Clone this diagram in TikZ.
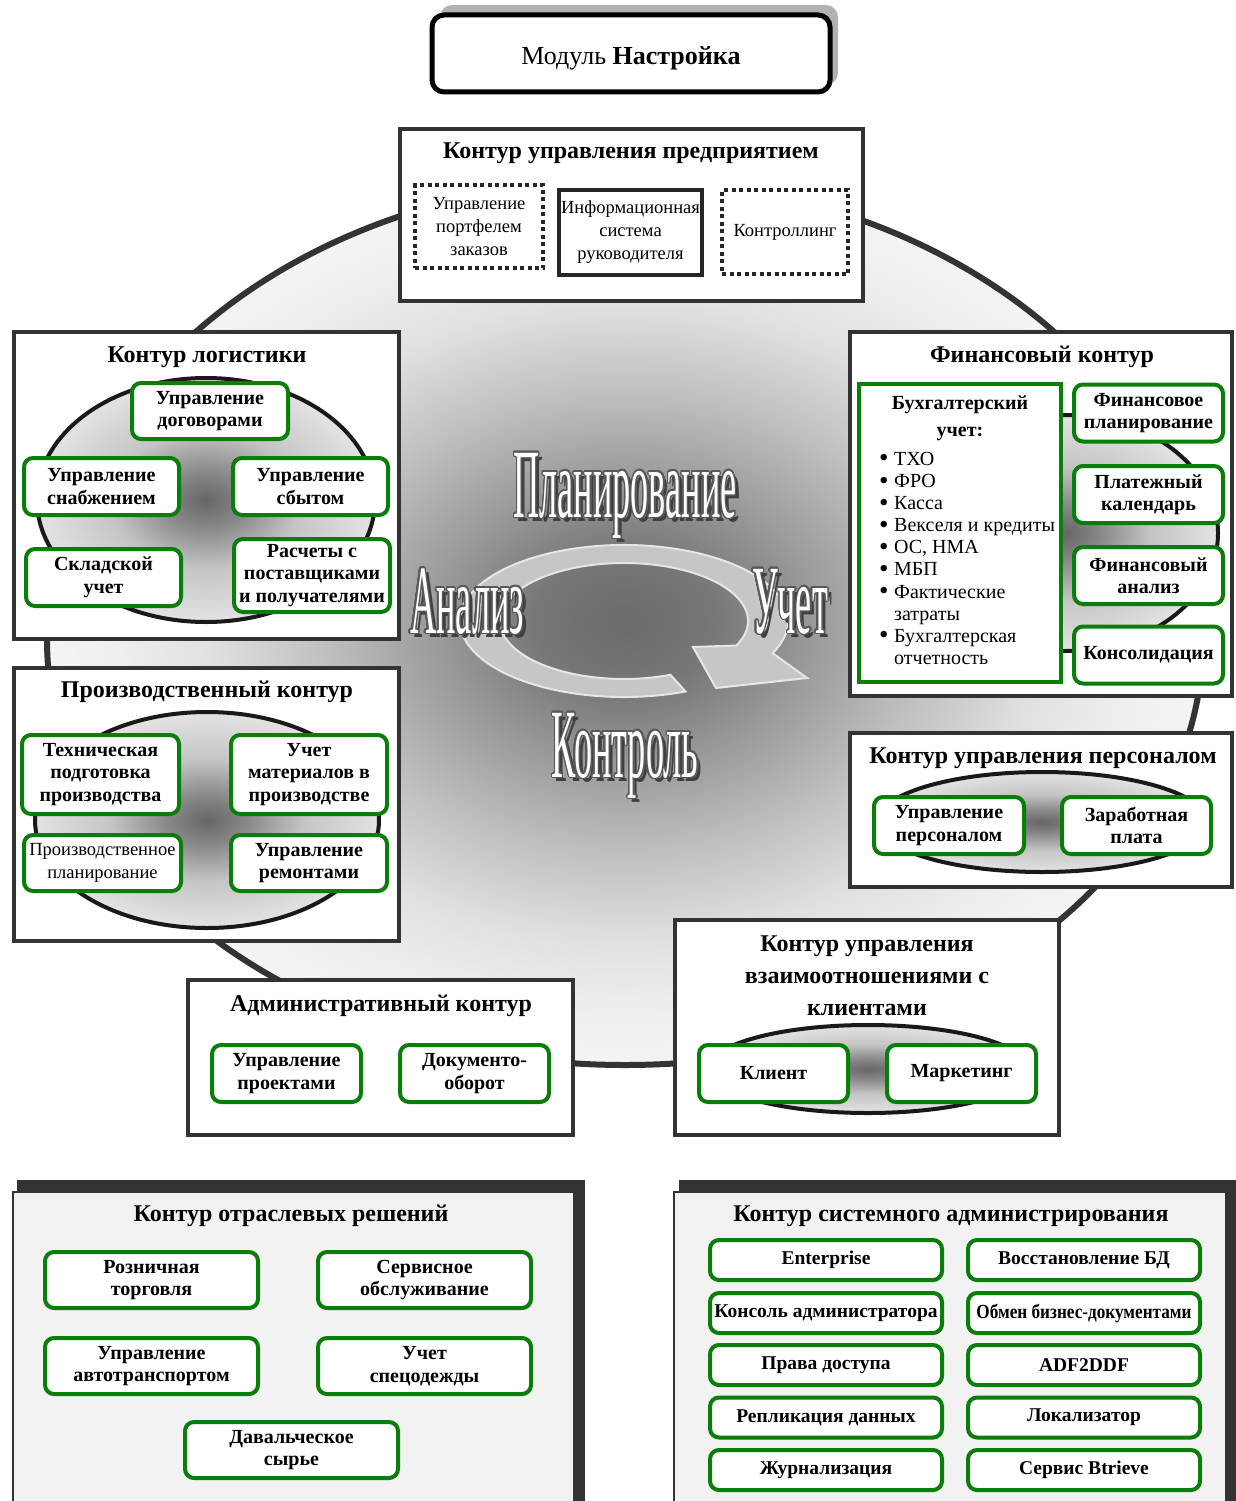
\documentclass[tikz,border=0pt]{standalone}
\usepackage{fontspec}
\setmainfont{Liberation Serif}
\newfontfamily\artfont[FakeStretch=0.37]{Liberation Serif}
\newfontfamily\narrowfont[FakeStretch=0.86]{Liberation Serif}
\usepackage[copies]{contour}
\contourlength{1.3pt}
\contournumber{24}
\usetikzlibrary{positioning}

\definecolor{frame}{HTML}{333333}
\definecolor{boxgreen}{HTML}{0B7D0B}
\definecolor{ringfill}{HTML}{C6C6C6}
\definecolor{ringedge}{HTML}{E6E6E6}
\definecolor{panelgray}{HTML}{F2F2F2}

\pgfdeclareradialshading{bigshade}{\pgfpoint{0bp}{0bp}}{gray(0bp)=(0.42); gray(4bp)=(0.47); gray(8bp)=(0.6); gray(13bp)=(0.75); gray(18bp)=(0.88); gray(22bp)=(0.935); gray(25bp)=(0.955); gray(50bp)=(0.955)}
\pgfdeclareradialshading{blobshade}{\pgfpoint{0bp}{0bp}}{gray(0bp)=(0.4); gray(6bp)=(0.54); gray(14bp)=(0.77); gray(25bp)=(0.89); gray(50bp)=(0.89)}

\newcommand{\titlefont}{\fontsize{24}{32}\selectfont\bfseries}
\newcommand{\subfont}{\fontsize{20}{22.5}\selectfont\bfseries}
\newcommand{\plainfont}{\fontsize{18.5}{23}\selectfont}
\newcommand{\listfont}{\fontsize{20}{22.1}\selectfont}
\newcommand{\artsize}{\fontsize{98}{98}\selectfont}
\newcommand{\bul}{\makebox[15pt][l]{\raisebox{-1.5pt}{\fontsize{27}{22}\selectfont•}}}
\newcommand{\nobul}{\hspace*{15pt}}

\tikzset{
  panel/.style={draw=frame, line width=4pt, fill=white},
  ktitle/.style={font=\titlefont, align=center, inner sep=0pt},
  sub/.style={draw=boxgreen, line width=4pt, rounded corners=9pt, fill=white, align=center, font=\subfont, inner sep=0pt},
  subsize/.style 2 args={minimum width=#1pt, minimum height=#2pt},
  small/.style={sub, minimum width=149pt, minimum height=57pt},
  wide/.style={sub, minimum width=213pt, minimum height=56pt},
  sys/.style={sub, minimum width=232pt, minimum height=40pt, font=\fontsize{19.5}{22}\selectfont\bfseries},
  dotbox/.style={draw=black!85, line width=4pt, dash pattern=on 4pt off 3.5pt, fill=white, align=center, font=\plainfont, inner sep=0pt},
  solidbox/.style={draw=black!85, line width=4pt, fill=white, align=center, font=\plainfont, inner sep=0pt},
  blob/.style={draw=black!90, line width=4pt, shade, shading=blobshade},
  artshadow/.style={font=\artfont\artsize, text=black!75, inner sep=0pt, anchor=base},
  artword/.style={font=\artfont\artsize, text=white, inner sep=0pt, anchor=base},
}

\begin{document}
\begin{tikzpicture}[x=1pt, y=-1pt]
\useasboundingbox (0,0) rectangle (1236,1501);

% module box
\fill[gray!60, rounded corners=12pt] (440,5) rectangle (838,85);
\node[draw=black, line width=5pt, fill=white, rounded corners=12pt, minimum width=398pt, minimum height=77pt, font=\fontsize{26}{30}\selectfont, inner sep=0pt, text height=24pt, text depth=2pt] (modul) at (631,53.5) {Модуль \textbf{Настройка}};

% big ring of contours
\draw[draw=frame, line width=6pt, shade, shading=bigshade] (47,640) arc[start angle=180, end angle=360, x radius=578, y radius=460] arc[start angle=0, end angle=180, x radius=578, y radius=425] -- cycle;

% cycle arrow
\filldraw[fill=ringfill, draw=ringedge, line width=2pt] (685.44,691.47) arc[start angle=68, end angle=385, x radius=164, y radius=76] -- (807,678) -- (716,688) -- (693,647) -- (736.38,645.51) arc[start angle=385, end angle=68, x radius=124, y radius=58] -- cycle;

% cycle words
\node[artshadow] (planshadow) at (629,521) {Планирование};
\node[artword] (plan) at (625,517) {\contour{black!65}{Планирование}};
\node[artshadow] (analizshadow) at (471,637) {Анализ};
\node[artword] (analiz) at (467,633) {\contour{black!65}{Анализ}};
\node[artshadow] (uchetshadow) at (794,637) {Учет};
\node[artword] (uchet) at (790,633) {\contour{black!65}{Учет}};
\node[artshadow] (kontrolshadow) at (629,781) {Контроль};
\node[artword] (kontrol) at (625,777) {\contour{black!65}{Контроль}};

% enterprise contour
\draw[panel] (400,129) rectangle (863,301);
\node[ktitle] (enttitle) at (631,153) {Контур управления предприятием};
\node[dotbox, subsize={128}{83}] (portf) at (479,226.5) {Управление\\портфелем\\заказов};
\node[solidbox, subsize={143}{85}] (infsys) at (630.5,232.5) {Информационная\\система\\руководителя};
\node[dotbox, subsize={126}{84}] (kontrolling) at (785,232) {Контроллинг};

% logistics contour
\draw[panel] (14,332) rectangle (399,639);
\node[ktitle] (logtitle) at (207,357) {Контур логистики};
\draw[blob] (206,500) ellipse [x radius=169, y radius=122];
\node[sub, subsize={156}{56}] (dogovor) at (210,411) {Управление\\договорами};
\node[sub, subsize={155}{57}] (snab) at (101.5,486.5) {Управление\\снабжением};
\node[sub, subsize={155}{57}] (sbyt) at (310.5,486.5) {Управление\\сбытом};
\node[sub, subsize={155}{57}] (sklad) at (103.5,577.5) {Складской\\учет};
\node[sub, subsize={156}{73}] (raschet) at (312,575.5) {Расчеты с\\поставщиками\\и получателями};

% financial contour
\draw[panel] (850,332) rectangle (1232,696);
\node[ktitle] (fintitle) at (1042,357) {Финансовый контур};
\draw[blob] (1065,533) ellipse [x radius=153, y radius=118];
\node[draw=boxgreen, line width=4pt, fill=white, minimum width=202pt, minimum height=298pt] (buh) at (960,533) {};
\node[align=center, font=\fontsize{20}{27}\selectfont\bfseries, inner sep=0pt] (buhhead) at (960,418) {Бухгалтерский\\учет:};
\node[anchor=north west, align=left, font=\listfont, inner sep=0pt] (buhlist) at (879,452) {\bul ТХО\\\bul ФРО\\\bul Касса\\\bul Векселя и кредиты\\\bul ОС, НМА\\\bul МБП\\\bul Фактические\\\nobul затраты\\\bul Бухгалтерская\\\nobul отчетность};
\node[small] (finplan) at (1148.5,413) {Финансовое\\планирование};
\node[small] (platcal) at (1148.5,494.5) {Платежный\\календарь};
\node[small] (finanal) at (1148.5,575.5) {Финансовый\\анализ};
\node[small] (konsol) at (1148.5,655) {Консолидация};

% production contour
\draw[panel] (14,668) rectangle (399,941);
\node[ktitle] (prodtitle) at (207,692) {Производственный контур};
\draw[blob] (207,820) ellipse [x radius=172, y radius=108];
\node[sub, subsize={157}{79}] (techpod) at (100.5,774.5) {Техническая\\подготовка\\производства};
\node[sub, subsize={156}{79}] (uchmat) at (309,774.5) {Учет\\материалов в\\производстве};
\node[sub, subsize={157}{56}, font=\fontsize{18.5}{22.5}\selectfont] (prplan) at (102.5,863) {Производственное\\планирование};
\node[sub, subsize={156}{56}] (remont) at (309,863) {Управление\\ремонтами};

% personnel contour
\draw[panel] (850,733) rectangle (1232,887);
\node[ktitle] (perstitle) at (1043,758) {Контур управления персоналом};
\draw[blob] (1042,822) ellipse [x radius=165, y radius=50];
\node[small, subsize={150}{57}] (uprpers) at (949,825.5) {Управление\\персоналом};
\node[small] (zarplata) at (1136.5,825.5) {Заработная\\плата};

% administrative contour
\draw[panel] (188,980) rectangle (573,1135);
\node[ktitle] (admtitle) at (381,1006) {Административный контур};
\node[small] (uprproj) at (286.5,1073.5) {Управление\\проектами};
\node[small] (docob) at (474.5,1073.5) {Документо-\\оборот};

% client relations contour
\draw[panel] (675,920) rectangle (1059,1135);
\node[ktitle] (crmtitle) at (867,976) {Контур управления\\взаимоотношениями с\\клиентами};
\draw[blob] (868,1069) ellipse [x radius=160, y radius=44];
\node[small] (klient) at (773.5,1073.5) {Клиент};
\node[small] (marketing) at (961.5,1073.5) {Маркетинг};

% industry solutions
\fill[frame] (17,1180) rectangle (585,1501);
\draw[draw=frame, line width=2pt, fill=panelgray] (13,1192) rectangle (574,1504);
\node[ktitle] (indtitle) at (291,1216) {Контур отраслевых решений};
\node[wide] (rozn) at (151.5,1280) {Розничная\\торговля};
\node[wide] (servis) at (424.5,1280) {Сервисное\\обслуживание};
\node[wide] (avto) at (151.5,1366) {Управление\\автотранспортом};
\node[wide] (specod) at (424.5,1366) {Учет\\спецодежды};
\node[wide] (daval) at (291.5,1450) {Давальческое\\сырье};

% system administration
\fill[frame] (679,1180) rectangle (1236,1501);
\draw[draw=frame, line width=2pt, fill=panelgray] (674,1192) rectangle (1226,1504);
\node[ktitle] (systitle) at (951,1216) {Контур системного администрирования};
\node[sys] (enterprise) at (826,1260) {Enterprise};
\node[sys] (konsoladm) at (826,1313) {Консоль администратора};
\node[sys] (prava) at (826,1365) {Права доступа};
\node[sys] (replik) at (826,1417.5) {Репликация данных};
\node[sys] (zhurnal) at (826,1470) {Журнализация};
\node[sys] (vosst) at (1084,1260) {Восстановление БД};
\node[sys, font=\narrowfont\fontsize{20}{22}\selectfont\bfseries] (obmen) at (1084,1313) {Обмен бизнес-документами};
\node[sys] (adf) at (1084,1365) {ADF2DDF};
\node[sys] (lokal) at (1084,1417.5) {Локализатор};
\node[sys] (btrieve) at (1084,1470) {Сервис Btrieve};
\end{tikzpicture}
\end{document}
